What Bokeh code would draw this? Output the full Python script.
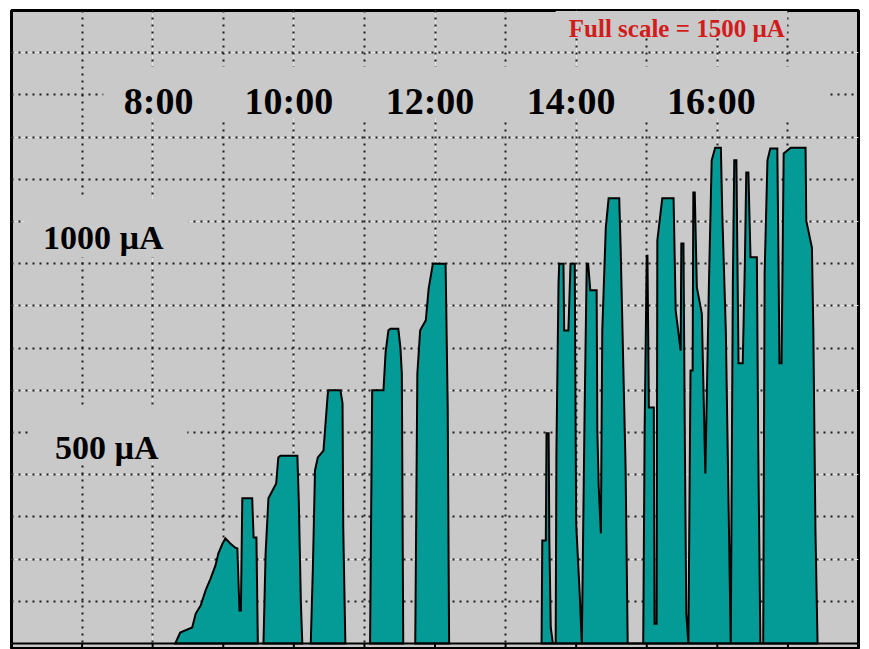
from bokeh.plotting import figure
from bokeh.models import FixedTicker, Grid, Span
from bokeh.core.properties import value
from bokeh.embed import file_html
from bokeh.resources import INLINE

# ---------------- data ----------------
hour_ticks = [7, 8, 9, 10, 11, 12, 13, 14, 15, 16, 17]
ua_ticks = [100, 200, 300, 400, 500, 600, 700, 800, 900, 1000, 1100, 1200, 1300, 1400]
time_label_hours = [8, 10, 12, 14, 16]
time_labels = ["8:00", "10:00", "12:00", "14:00", "16:00"]
level_values = [1000, 500]
level_labels = ["1000 µA", "500 µA"]
full_scale = 1500

hump1_t = [8.32, 8.39, 8.56, 8.61, 8.68, 8.75, 8.82, 8.89, 8.93, 8.99, 9.03, 9.10, 9.17, 9.20,
           9.23, 9.25, 9.27, 9.41, 9.43, 9.47, 9.49]
hump1_ua = [0, 26, 38, 71, 90, 126, 154, 185, 213, 237, 249, 237, 227, 225,
            78, 78, 344, 344, 251, 251, 0]

hump2_t = [9.57, 9.60, 9.64, 9.75, 9.78, 9.81, 10.05, 10.07, 10.10, 10.12]
hump2_ua = [0, 213, 344, 379, 441, 445, 445, 339, 95, 0]

hump3_t = [10.24, 10.27, 10.30, 10.34, 10.42, 10.48, 10.49, 10.66, 10.69, 10.70, 10.73]
hump3_ua = [0, 180, 410, 441, 457, 590, 600, 600, 569, 275, 0]

hump4_t = [11.08, 11.11, 11.27, 11.30, 11.34, 11.37, 11.48, 11.51, 11.53, 11.55]
hump4_ua = [0, 600, 600, 690, 742, 746, 746, 701, 640, 0]

hump5_t = [11.72, 11.75, 11.79, 11.87, 11.91, 11.97, 12.15, 12.18, 12.20]
hump5_ua = [0, 640, 742, 766, 841, 900, 900, 560, 0]

afternoon_t = [13.51, 13.52, 13.57, 13.58, 13.61, 13.62, 13.64, 13.67, 13.71, 13.72, 13.75, 13.76,
               13.82, 13.83, 13.89, 13.92, 13.98, 14.00, 14.05, 14.08, 14.12, 14.15, 14.17, 14.20,
               14.29, 14.30, 14.32, 14.35, 14.37, 14.42, 14.46, 14.61, 14.63, 14.70, 14.73, 14.95,
               14.97, 15.00, 15.01, 15.03, 15.10, 15.11, 15.14, 15.15, 15.22, 15.38, 15.41, 15.48,
               15.49, 15.52, 15.54, 15.56, 15.59, 15.62, 15.65, 15.66, 15.68, 15.71, 15.78, 15.83,
               15.88, 15.92, 15.97, 16.05, 16.07, 16.12, 16.16, 16.19, 16.22, 16.24, 16.27, 16.30,
               16.36, 16.39, 16.41, 16.44, 16.47, 16.56, 16.58, 16.61, 16.65, 16.67, 16.71, 16.75,
               16.85, 16.87, 16.88, 16.91, 16.94, 17.04, 17.25, 17.26, 17.34, 17.36, 17.39, 17.42]
afternoon_ua = [0, 244, 244, 498, 498, 244, 38, 0, 0, 450, 853, 900,
                900, 742, 742, 900, 900, 284, 118, 0, 552, 900, 900, 837,
                837, 505, 370, 261, 742, 986, 1055, 1055, 938, 417, 0, 0,
                505, 919, 919, 559, 559, 47, 47, 955, 1055, 1055, 789, 694,
                948, 948, 474, 71, 0, 647, 647, 1069, 1069, 844, 782, 403,
                844, 1145, 1175, 1175, 1019, 742, 322, 0, 853, 1145, 1145, 664,
                664, 900, 1116, 1116, 915, 915, 457, 0, 0, 877, 1145, 1173,
                1173, 844, 664, 664, 1161, 1175, 1175, 1002, 938, 742, 268, 0]

# ---------------- style / layout ----------------
BG = "#c9c9c9"
TEAL = "#049a96"
GRID = "#1e1e1e"
SERIF = value("Liberation Serif")

p = figure(width=869, height=649, x_range=(6, 18), y_range=(-14.2, 1500),
           output_backend="svg", toolbar_location=None,
           x_axis_location=None, y_axis_location=None,
           min_border_left=11, min_border_right=11, min_border_top=10, min_border_bottom=0,
           background_fill_color=BG, border_fill_color="white")
p.outline_line_color = "black"
p.outline_line_width = 3

for dim, ticks in ((0, hour_ticks), (1, ua_ticks)):
    g = Grid(dimension=dim, ticker=FixedTicker(ticks=ticks),
             grid_line_color=GRID, grid_line_width=2, grid_line_dash="2 5")
    p.add_layout(g, "center")

# label background boxes (hide the grid behind the texts)
p.quad(left=[7.30, 6.18, 6.27, 13.71], right=[17.58, 8.51, 8.49, 16.99],
       bottom=[1244, 915, 429, 1445], top=[1367, 1054, 564, 1499],
       fill_color=BG, line_color=None)

xs = [hump1_t, hump2_t, hump3_t, hump4_t, hump5_t, afternoon_t]
ys = [hump1_ua, hump2_ua, hump3_ua, hump4_ua, hump5_ua, afternoon_ua]
p.patches(xs=xs, ys=ys, fill_color=TEAL, line_color="black", line_width=2,
          line_join="miter")

# bottom baseline with ticks
p.add_layout(Span(location=0, dimension="width", line_color="black", line_width=2))
p.segment(x0=hour_ticks, y0=[0] * len(hour_ticks), x1=hour_ticks,
          y1=[-14.2] * len(hour_ticks), line_color="black", line_width=2)

# texts
p.text(x=time_label_hours, y=[1300] * len(time_label_hours), text=time_labels,
       x_offset=[6, -5, -5, -5, -6], y_offset=6,
       text_font=SERIF, text_font_style="bold", text_font_size="38px",
       text_align="center", text_baseline="alphabetic", text_color="black")
p.text(x=[7.30, 7.35], y=level_values, text=level_labels, y_offset=[16, 15],
       text_font=SERIF, text_font_style="bold", text_font_size="34px",
       text_align="center", text_baseline="alphabetic", text_color="black")
p.text(x=[17], y=[full_scale], text=[f"Full scale = {full_scale} µA"],
       x_offset=-3, y_offset=18,
       text_font=SERIF, text_font_style="bold", text_font_size="25px",
       text_align="right", text_baseline="alphabetic", text_color="#d21c1c")

open("out.html", "w").write(file_html(p, INLINE))
